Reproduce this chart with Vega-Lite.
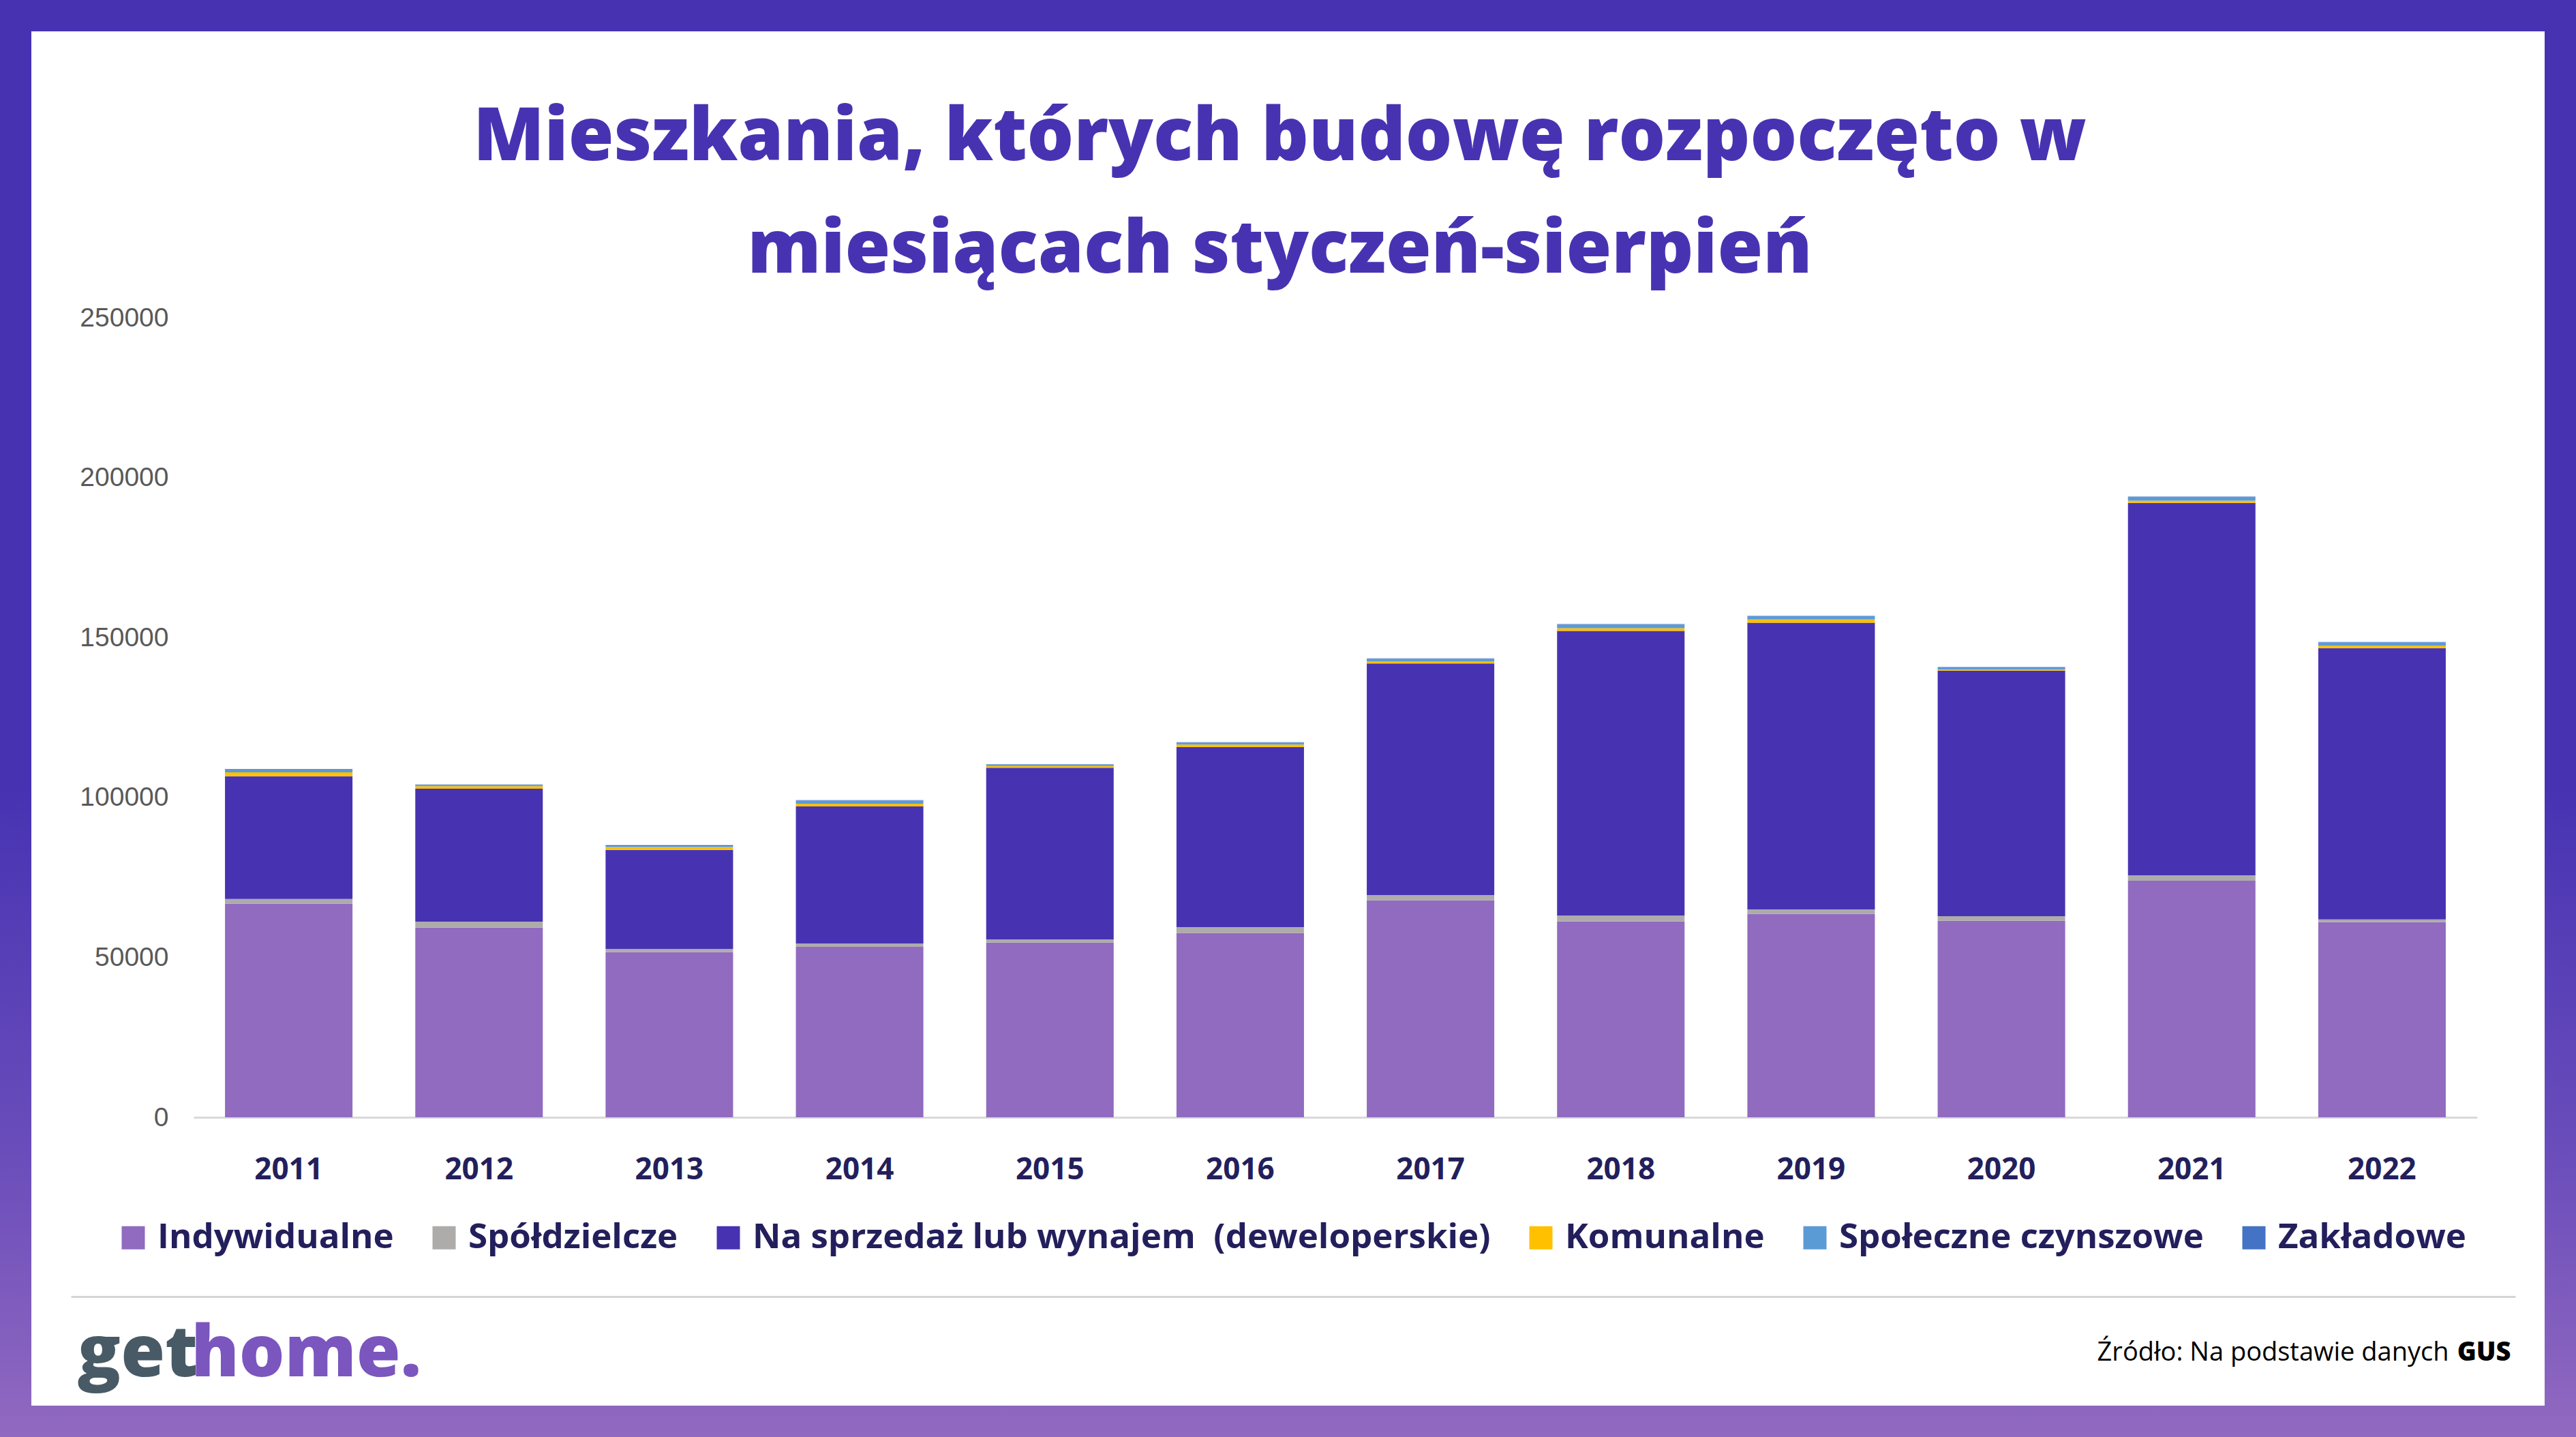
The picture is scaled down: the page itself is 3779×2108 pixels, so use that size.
{
  "$schema": "https://vega.github.io/schema/vega-lite/v6.json",
  "width": 3779,
  "height": 2108,
  "autosize": {"type": "none"},
  "padding": 0,
  "background": "#ffffff",
  "view": {
    "fill": "#ffffff",
    "strokeWidth": 92,
    "stroke": {"gradient": "linear", "x1": 0, "y1": 0, "x2": 0, "y2": 1,
      "stops": [{"offset": 0, "color": "#4733B2"}, {"offset": 0.55, "color": "#4733B2"}, {"offset": 0.8, "color": "#6A4DBB"}, {"offset": 1, "color": "#9169C0"}]}
  },
  "title": {
    "text": ["Mieszkania, których budowę rozpoczęto w", "miesiącach styczeń-sierpień"],
    "orient": "top",
    "anchor": "middle",
    "frame": "group",
    "baseline": "alphabetic",
    "offset": -508,
    "dx": -12,
    "lineHeight": 165,
    "font": "Open Sans",
    "fontWeight": 800,
    "fontSize": 108,
    "color": "#4733B2"
  },
  "datasets": {
    "typy": [
      {"Typ": "Indywidualne", "Poziom": 1},
      {"Typ": "Spółdzielcze", "Poziom": 2},
      {"Typ": "Na sprzedaż lub wynajem  (deweloperskie)", "Poziom": 3},
      {"Typ": "Komunalne", "Poziom": 4},
      {"Typ": "Społeczne czynszowe", "Poziom": 5},
      {"Typ": "Zakładowe", "Poziom": 6}
    ]
  },
  "data": {"values": [
    {"Rok": "2011", "Typ": "Indywidualne", "Liczba": 66800},
    {"Rok": "2011", "Typ": "Spółdzielcze", "Liczba": 1430},
    {"Rok": "2011", "Typ": "Na sprzedaż lub wynajem  (deweloperskie)", "Liczba": 38400},
    {"Rok": "2011", "Typ": "Komunalne", "Liczba": 1200},
    {"Rok": "2011", "Typ": "Społeczne czynszowe", "Liczba": 900},
    {"Rok": "2011", "Typ": "Zakładowe", "Liczba": 200},
    {"Rok": "2012", "Typ": "Indywidualne", "Liczba": 59300},
    {"Rok": "2012", "Typ": "Spółdzielcze", "Liczba": 1850},
    {"Rok": "2012", "Typ": "Na sprzedaż lub wynajem  (deweloperskie)", "Liczba": 41600},
    {"Rok": "2012", "Typ": "Komunalne", "Liczba": 800},
    {"Rok": "2012", "Typ": "Społeczne czynszowe", "Liczba": 400},
    {"Rok": "2012", "Typ": "Zakładowe", "Liczba": 100},
    {"Rok": "2013", "Typ": "Indywidualne", "Liczba": 51650},
    {"Rok": "2013", "Typ": "Spółdzielcze", "Liczba": 1000},
    {"Rok": "2013", "Typ": "Na sprzedaż lub wynajem  (deweloperskie)", "Liczba": 30950},
    {"Rok": "2013", "Typ": "Komunalne", "Liczba": 900},
    {"Rok": "2013", "Typ": "Społeczne czynszowe", "Liczba": 300},
    {"Rok": "2013", "Typ": "Zakładowe", "Liczba": 300},
    {"Rok": "2014", "Typ": "Indywidualne", "Liczba": 53300},
    {"Rok": "2014", "Typ": "Spółdzielcze", "Liczba": 1050},
    {"Rok": "2014", "Typ": "Na sprzedaż lub wynajem  (deweloperskie)", "Liczba": 42850},
    {"Rok": "2014", "Typ": "Komunalne", "Liczba": 850},
    {"Rok": "2014", "Typ": "Społeczne czynszowe", "Liczba": 950},
    {"Rok": "2014", "Typ": "Zakładowe", "Liczba": 150},
    {"Rok": "2015", "Typ": "Indywidualne", "Liczba": 54600},
    {"Rok": "2015", "Typ": "Spółdzielcze", "Liczba": 1000},
    {"Rok": "2015", "Typ": "Na sprzedaż lub wynajem  (deweloperskie)", "Liczba": 53700},
    {"Rok": "2015", "Typ": "Komunalne", "Liczba": 500},
    {"Rok": "2015", "Typ": "Społeczne czynszowe", "Liczba": 500},
    {"Rok": "2015", "Typ": "Zakładowe", "Liczba": 100},
    {"Rok": "2016", "Typ": "Indywidualne", "Liczba": 57600},
    {"Rok": "2016", "Typ": "Spółdzielcze", "Liczba": 1850},
    {"Rok": "2016", "Typ": "Na sprzedaż lub wynajem  (deweloperskie)", "Liczba": 56300},
    {"Rok": "2016", "Typ": "Komunalne", "Liczba": 800},
    {"Rok": "2016", "Typ": "Społeczne czynszowe", "Liczba": 600},
    {"Rok": "2016", "Typ": "Zakładowe", "Liczba": 100},
    {"Rok": "2017", "Typ": "Indywidualne", "Liczba": 67850},
    {"Rok": "2017", "Typ": "Spółdzielcze", "Liczba": 1650},
    {"Rok": "2017", "Typ": "Na sprzedaż lub wynajem  (deweloperskie)", "Liczba": 72400},
    {"Rok": "2017", "Typ": "Komunalne", "Liczba": 550},
    {"Rok": "2017", "Typ": "Społeczne czynszowe", "Liczba": 950},
    {"Rok": "2017", "Typ": "Zakładowe", "Liczba": 100},
    {"Rok": "2018", "Typ": "Indywidualne", "Liczba": 61250},
    {"Rok": "2018", "Typ": "Spółdzielcze", "Liczba": 1850},
    {"Rok": "2018", "Typ": "Na sprzedaż lub wynajem  (deweloperskie)", "Liczba": 88950},
    {"Rok": "2018", "Typ": "Komunalne", "Liczba": 850},
    {"Rok": "2018", "Typ": "Społeczne czynszowe", "Liczba": 1150},
    {"Rok": "2018", "Typ": "Zakładowe", "Liczba": 150},
    {"Rok": "2019", "Typ": "Indywidualne", "Liczba": 63600},
    {"Rok": "2019", "Typ": "Spółdzielcze", "Liczba": 1400},
    {"Rok": "2019", "Typ": "Na sprzedaż lub wynajem  (deweloperskie)", "Liczba": 89600},
    {"Rok": "2019", "Typ": "Komunalne", "Liczba": 1050},
    {"Rok": "2019", "Typ": "Społeczne czynszowe", "Liczba": 1000},
    {"Rok": "2019", "Typ": "Zakładowe", "Liczba": 100},
    {"Rok": "2020", "Typ": "Indywidualne", "Liczba": 61450},
    {"Rok": "2020", "Typ": "Spółdzielcze", "Liczba": 1400},
    {"Rok": "2020", "Typ": "Na sprzedaż lub wynajem  (deweloperskie)", "Liczba": 76800},
    {"Rok": "2020", "Typ": "Komunalne", "Liczba": 300},
    {"Rok": "2020", "Typ": "Społeczne czynszowe", "Liczba": 700},
    {"Rok": "2020", "Typ": "Zakładowe", "Liczba": 100},
    {"Rok": "2021", "Typ": "Indywidualne", "Liczba": 73950},
    {"Rok": "2021", "Typ": "Spółdzielcze", "Liczba": 1700},
    {"Rok": "2021", "Typ": "Na sprzedaż lub wynajem  (deweloperskie)", "Liczba": 116450},
    {"Rok": "2021", "Typ": "Komunalne", "Liczba": 650},
    {"Rok": "2021", "Typ": "Społeczne czynszowe", "Liczba": 1200},
    {"Rok": "2021", "Typ": "Zakładowe", "Liczba": 100},
    {"Rok": "2022", "Typ": "Indywidualne", "Liczba": 61000},
    {"Rok": "2022", "Typ": "Spółdzielcze", "Liczba": 850},
    {"Rok": "2022", "Typ": "Na sprzedaż lub wynajem  (deweloperskie)", "Liczba": 84850},
    {"Rok": "2022", "Typ": "Komunalne", "Liczba": 800},
    {"Rok": "2022", "Typ": "Społeczne czynszowe", "Liczba": 1000},
    {"Rok": "2022", "Typ": "Zakładowe", "Liczba": 100}
  ]},
  "layer": [
    {
      "transform": [
        {"lookup": "Typ", "from": {"data": {"name": "typy"}, "key": "Typ", "fields": ["Poziom"]}}
      ],
      "mark": {"type": "bar"},
      "encoding": {
        "x": {
          "field": "Rok", "type": "nominal",
          "scale": {"type": "band", "range": [284, 3634], "paddingInner": 0.33, "paddingOuter": 0.165},
          "axis": {
            "orient": "bottom", "offset": -469,
            "domainColor": "#D9D9D9", "domainWidth": 3,
            "ticks": false, "tickSize": 0, "grid": false,
            "labelPadding": 55, "labelAngle": 0,
            "labelFont": "Open Sans", "labelFontWeight": 700, "labelFontSize": 44, "labelColor": "#231F5C",
            "title": "Źródło: Na podstawie danych",
            "titleX": 3592, "titleY": 356, "titleAlign": "right", "titleBaseline": "alphabetic",
            "titleFont": "Open Sans", "titleFontWeight": 400, "titleFontSize": 38, "titleColor": "#000000"
          }
        },
        "y": {
          "field": "Liczba", "type": "quantitative",
          "scale": {"domain": [0, 250000], "range": [1639, 466], "nice": false, "zero": true},
          "axis": {
            "orient": "left", "offset": -284,
            "values": [0, 50000, 100000, 150000, 200000, 250000], "format": "d",
            "domain": false, "ticks": false, "tickSize": 0, "grid": false,
            "labelPadding": 37, "labelFont": "Liberation Sans", "labelFontSize": 39, "labelColor": "#595959",
            "title": "get",
            "titleX": -171, "titleY": 2018, "titleAngle": 0, "titleAlign": "left", "titleBaseline": "alphabetic",
            "titleFont": "Open Sans", "titleFontWeight": 800, "titleFontSize": 105, "titleColor": "#485A66"
          }
        },
        "order": {"field": "Poziom", "type": "quantitative", "sort": "ascending"},
        "color": {
          "field": "Typ", "type": "nominal",
          "scale": {
            "domain": ["Indywidualne", "Spółdzielcze", "Na sprzedaż lub wynajem  (deweloperskie)", "Komunalne", "Społeczne czynszowe", "Zakładowe"],
            "range": ["#906BC0", "#AEABAB", "#4733B2", "#FFC000", "#5B9BD5", "#4472C4"]
          },
          "legend": {
            "title": null, "orient": "none", "legendX": 170, "legendY": 1790,
            "direction": "horizontal", "padding": 0,
            "symbolType": "square", "symbolSize": 1156, "symbolStrokeWidth": 0,
            "labelFont": "Open Sans", "labelFontWeight": 700, "labelFontSize": 51, "labelColor": "#231F5C",
            "labelOffset": 10, "columnPadding": 48, "labelLimit": 0,
            "labelExpr": "datum.label == 'Na sprzedaż lub wynajem  (deweloperskie)' ? 'Na sprzedaż lub wynajem \u00a0(deweloperskie)' : datum.label"
          }
        }
      }
    },
    {
      "mark": {"type": "point", "opacity": 0},
      "encoding": {
        "x": {
          "field": "Rok", "type": "nominal",
          "scale": {"type": "point", "range": [104, 3690]},
          "axis": {
            "orient": "top", "offset": -1902,
            "domainColor": "#D5D5D5", "domainWidth": 3,
            "labels": false, "ticks": false, "tickSize": 0, "grid": false,
            "title": "GUS",
            "titleX": 3683, "titleY": 93, "titleAlign": "right", "titleBaseline": "alphabetic",
            "titleFont": "Open Sans", "titleFontWeight": 800, "titleFontSize": 38, "titleColor": "#000000"
          }
        },
        "y": {
          "field": "Liczba", "type": "quantitative",
          "axis": {
            "orient": "right",
            "domain": false, "labels": false, "ticks": false, "grid": false,
            "title": "home.",
            "titleX": -3499, "titleY": 2018, "titleAngle": 0, "titleAlign": "left", "titleBaseline": "alphabetic",
            "titleFont": "Open Sans", "titleFontWeight": 800, "titleFontSize": 105, "titleColor": "#7A56BE"
          }
        }
      }
    }
  ],
  "resolve": {"scale": {"x": "independent"}, "axis": {"x": "independent", "y": "independent"}}
}
